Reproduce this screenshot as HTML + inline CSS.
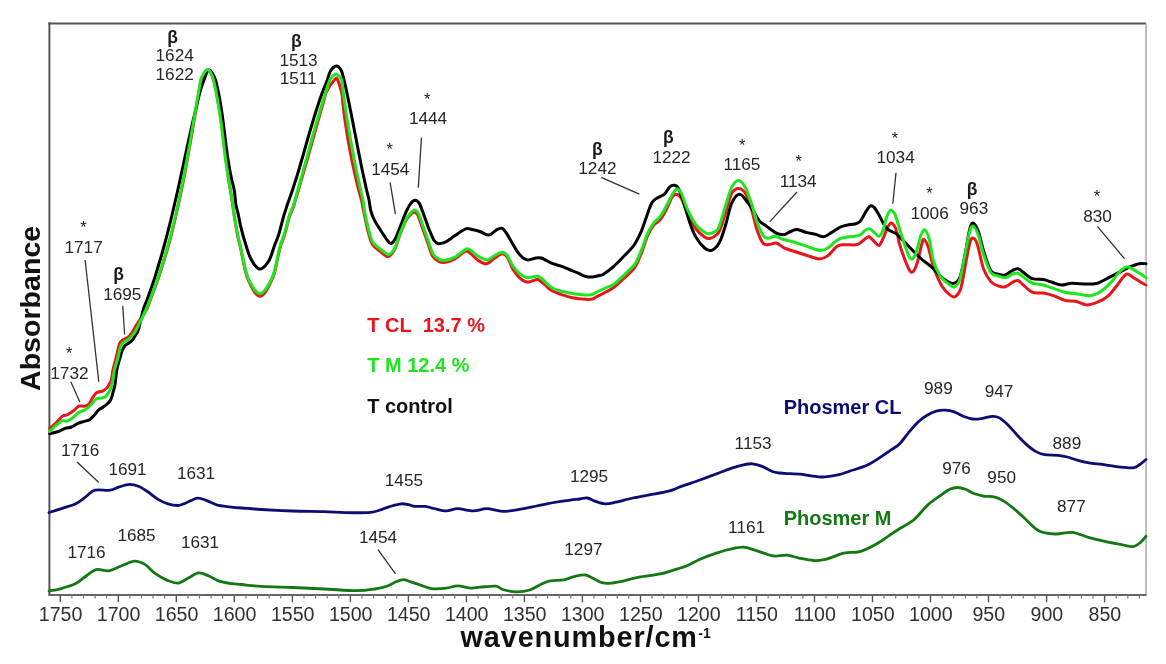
<!DOCTYPE html>
<html><head><meta charset="utf-8"><title>FTIR spectra</title>
<style>
html,body{margin:0;padding:0;background:#fff;}
body{width:1166px;height:664px;overflow:hidden;}
svg{display:block;font-family:"Liberation Sans", sans-serif;will-change:transform;}
</style></head>
<body>
<svg width="1166" height="664" viewBox="0 0 1166 664">
<rect width="1166" height="664" fill="#fff"/>
<line x1="48.4" y1="23.4" x2="1146.0" y2="23.4" stroke="#555" stroke-width="2.0"/>
<line x1="49.4" y1="22.4" x2="49.4" y2="595.0" stroke="#555" stroke-width="2.0"/>
<line x1="1146.0" y1="23.4" x2="1146.0" y2="595.0" stroke="#a8a8a8" stroke-width="1.5"/>
<line x1="48.4" y1="595.0" x2="1146.5" y2="595.0" stroke="#666" stroke-width="2.0"/>
<line x1="60.3" y1="595.0" x2="60.3" y2="602.3" stroke="#555" stroke-width="1.4"/>
<line x1="71.9" y1="595.0" x2="71.9" y2="598.5" stroke="#777" stroke-width="1.2"/>
<line x1="83.5" y1="595.0" x2="83.5" y2="598.5" stroke="#777" stroke-width="1.2"/>
<line x1="95.1" y1="595.0" x2="95.1" y2="598.5" stroke="#777" stroke-width="1.2"/>
<line x1="106.7" y1="595.0" x2="106.7" y2="598.5" stroke="#777" stroke-width="1.2"/>
<line x1="118.3" y1="595.0" x2="118.3" y2="602.3" stroke="#555" stroke-width="1.4"/>
<line x1="129.9" y1="595.0" x2="129.9" y2="598.5" stroke="#777" stroke-width="1.2"/>
<line x1="141.5" y1="595.0" x2="141.5" y2="598.5" stroke="#777" stroke-width="1.2"/>
<line x1="153.1" y1="595.0" x2="153.1" y2="598.5" stroke="#777" stroke-width="1.2"/>
<line x1="164.7" y1="595.0" x2="164.7" y2="598.5" stroke="#777" stroke-width="1.2"/>
<line x1="176.3" y1="595.0" x2="176.3" y2="602.3" stroke="#555" stroke-width="1.4"/>
<line x1="187.9" y1="595.0" x2="187.9" y2="598.5" stroke="#777" stroke-width="1.2"/>
<line x1="199.5" y1="595.0" x2="199.5" y2="598.5" stroke="#777" stroke-width="1.2"/>
<line x1="211.1" y1="595.0" x2="211.1" y2="598.5" stroke="#777" stroke-width="1.2"/>
<line x1="222.7" y1="595.0" x2="222.7" y2="598.5" stroke="#777" stroke-width="1.2"/>
<line x1="234.3" y1="595.0" x2="234.3" y2="602.3" stroke="#555" stroke-width="1.4"/>
<line x1="245.9" y1="595.0" x2="245.9" y2="598.5" stroke="#777" stroke-width="1.2"/>
<line x1="257.6" y1="595.0" x2="257.6" y2="598.5" stroke="#777" stroke-width="1.2"/>
<line x1="269.2" y1="595.0" x2="269.2" y2="598.5" stroke="#777" stroke-width="1.2"/>
<line x1="280.8" y1="595.0" x2="280.8" y2="598.5" stroke="#777" stroke-width="1.2"/>
<line x1="292.4" y1="595.0" x2="292.4" y2="602.3" stroke="#555" stroke-width="1.4"/>
<line x1="304.0" y1="595.0" x2="304.0" y2="598.5" stroke="#777" stroke-width="1.2"/>
<line x1="315.6" y1="595.0" x2="315.6" y2="598.5" stroke="#777" stroke-width="1.2"/>
<line x1="327.2" y1="595.0" x2="327.2" y2="598.5" stroke="#777" stroke-width="1.2"/>
<line x1="338.8" y1="595.0" x2="338.8" y2="598.5" stroke="#777" stroke-width="1.2"/>
<line x1="350.4" y1="595.0" x2="350.4" y2="602.3" stroke="#555" stroke-width="1.4"/>
<line x1="362.0" y1="595.0" x2="362.0" y2="598.5" stroke="#777" stroke-width="1.2"/>
<line x1="373.6" y1="595.0" x2="373.6" y2="598.5" stroke="#777" stroke-width="1.2"/>
<line x1="385.2" y1="595.0" x2="385.2" y2="598.5" stroke="#777" stroke-width="1.2"/>
<line x1="396.8" y1="595.0" x2="396.8" y2="598.5" stroke="#777" stroke-width="1.2"/>
<line x1="408.4" y1="595.0" x2="408.4" y2="602.3" stroke="#555" stroke-width="1.4"/>
<line x1="420.0" y1="595.0" x2="420.0" y2="598.5" stroke="#777" stroke-width="1.2"/>
<line x1="431.6" y1="595.0" x2="431.6" y2="598.5" stroke="#777" stroke-width="1.2"/>
<line x1="443.2" y1="595.0" x2="443.2" y2="598.5" stroke="#777" stroke-width="1.2"/>
<line x1="454.8" y1="595.0" x2="454.8" y2="598.5" stroke="#777" stroke-width="1.2"/>
<line x1="466.4" y1="595.0" x2="466.4" y2="602.3" stroke="#555" stroke-width="1.4"/>
<line x1="478.0" y1="595.0" x2="478.0" y2="598.5" stroke="#777" stroke-width="1.2"/>
<line x1="489.6" y1="595.0" x2="489.6" y2="598.5" stroke="#777" stroke-width="1.2"/>
<line x1="501.2" y1="595.0" x2="501.2" y2="598.5" stroke="#777" stroke-width="1.2"/>
<line x1="512.8" y1="595.0" x2="512.8" y2="598.5" stroke="#777" stroke-width="1.2"/>
<line x1="524.4" y1="595.0" x2="524.4" y2="602.3" stroke="#555" stroke-width="1.4"/>
<line x1="536.0" y1="595.0" x2="536.0" y2="598.5" stroke="#777" stroke-width="1.2"/>
<line x1="547.6" y1="595.0" x2="547.6" y2="598.5" stroke="#777" stroke-width="1.2"/>
<line x1="559.2" y1="595.0" x2="559.2" y2="598.5" stroke="#777" stroke-width="1.2"/>
<line x1="570.8" y1="595.0" x2="570.8" y2="598.5" stroke="#777" stroke-width="1.2"/>
<line x1="582.4" y1="595.0" x2="582.4" y2="602.3" stroke="#555" stroke-width="1.4"/>
<line x1="594.0" y1="595.0" x2="594.0" y2="598.5" stroke="#777" stroke-width="1.2"/>
<line x1="605.6" y1="595.0" x2="605.6" y2="598.5" stroke="#777" stroke-width="1.2"/>
<line x1="617.2" y1="595.0" x2="617.2" y2="598.5" stroke="#777" stroke-width="1.2"/>
<line x1="628.8" y1="595.0" x2="628.8" y2="598.5" stroke="#777" stroke-width="1.2"/>
<line x1="640.5" y1="595.0" x2="640.5" y2="602.3" stroke="#555" stroke-width="1.4"/>
<line x1="652.1" y1="595.0" x2="652.1" y2="598.5" stroke="#777" stroke-width="1.2"/>
<line x1="663.7" y1="595.0" x2="663.7" y2="598.5" stroke="#777" stroke-width="1.2"/>
<line x1="675.3" y1="595.0" x2="675.3" y2="598.5" stroke="#777" stroke-width="1.2"/>
<line x1="686.9" y1="595.0" x2="686.9" y2="598.5" stroke="#777" stroke-width="1.2"/>
<line x1="698.5" y1="595.0" x2="698.5" y2="602.3" stroke="#555" stroke-width="1.4"/>
<line x1="710.1" y1="595.0" x2="710.1" y2="598.5" stroke="#777" stroke-width="1.2"/>
<line x1="721.7" y1="595.0" x2="721.7" y2="598.5" stroke="#777" stroke-width="1.2"/>
<line x1="733.3" y1="595.0" x2="733.3" y2="598.5" stroke="#777" stroke-width="1.2"/>
<line x1="744.9" y1="595.0" x2="744.9" y2="598.5" stroke="#777" stroke-width="1.2"/>
<line x1="756.5" y1="595.0" x2="756.5" y2="602.3" stroke="#555" stroke-width="1.4"/>
<line x1="768.1" y1="595.0" x2="768.1" y2="598.5" stroke="#777" stroke-width="1.2"/>
<line x1="779.7" y1="595.0" x2="779.7" y2="598.5" stroke="#777" stroke-width="1.2"/>
<line x1="791.3" y1="595.0" x2="791.3" y2="598.5" stroke="#777" stroke-width="1.2"/>
<line x1="802.9" y1="595.0" x2="802.9" y2="598.5" stroke="#777" stroke-width="1.2"/>
<line x1="814.5" y1="595.0" x2="814.5" y2="602.3" stroke="#555" stroke-width="1.4"/>
<line x1="826.1" y1="595.0" x2="826.1" y2="598.5" stroke="#777" stroke-width="1.2"/>
<line x1="837.7" y1="595.0" x2="837.7" y2="598.5" stroke="#777" stroke-width="1.2"/>
<line x1="849.3" y1="595.0" x2="849.3" y2="598.5" stroke="#777" stroke-width="1.2"/>
<line x1="860.9" y1="595.0" x2="860.9" y2="598.5" stroke="#777" stroke-width="1.2"/>
<line x1="872.5" y1="595.0" x2="872.5" y2="602.3" stroke="#555" stroke-width="1.4"/>
<line x1="884.1" y1="595.0" x2="884.1" y2="598.5" stroke="#777" stroke-width="1.2"/>
<line x1="895.7" y1="595.0" x2="895.7" y2="598.5" stroke="#777" stroke-width="1.2"/>
<line x1="907.3" y1="595.0" x2="907.3" y2="598.5" stroke="#777" stroke-width="1.2"/>
<line x1="918.9" y1="595.0" x2="918.9" y2="598.5" stroke="#777" stroke-width="1.2"/>
<line x1="930.5" y1="595.0" x2="930.5" y2="602.3" stroke="#555" stroke-width="1.4"/>
<line x1="942.1" y1="595.0" x2="942.1" y2="598.5" stroke="#777" stroke-width="1.2"/>
<line x1="953.7" y1="595.0" x2="953.7" y2="598.5" stroke="#777" stroke-width="1.2"/>
<line x1="965.3" y1="595.0" x2="965.3" y2="598.5" stroke="#777" stroke-width="1.2"/>
<line x1="976.9" y1="595.0" x2="976.9" y2="598.5" stroke="#777" stroke-width="1.2"/>
<line x1="988.5" y1="595.0" x2="988.5" y2="602.3" stroke="#555" stroke-width="1.4"/>
<line x1="1000.1" y1="595.0" x2="1000.1" y2="598.5" stroke="#777" stroke-width="1.2"/>
<line x1="1011.7" y1="595.0" x2="1011.7" y2="598.5" stroke="#777" stroke-width="1.2"/>
<line x1="1023.3" y1="595.0" x2="1023.3" y2="598.5" stroke="#777" stroke-width="1.2"/>
<line x1="1035.0" y1="595.0" x2="1035.0" y2="598.5" stroke="#777" stroke-width="1.2"/>
<line x1="1046.6" y1="595.0" x2="1046.6" y2="602.3" stroke="#555" stroke-width="1.4"/>
<line x1="1058.2" y1="595.0" x2="1058.2" y2="598.5" stroke="#777" stroke-width="1.2"/>
<line x1="1069.8" y1="595.0" x2="1069.8" y2="598.5" stroke="#777" stroke-width="1.2"/>
<line x1="1081.4" y1="595.0" x2="1081.4" y2="598.5" stroke="#777" stroke-width="1.2"/>
<line x1="1093.0" y1="595.0" x2="1093.0" y2="598.5" stroke="#777" stroke-width="1.2"/>
<line x1="1104.6" y1="595.0" x2="1104.6" y2="602.3" stroke="#555" stroke-width="1.4"/>
<line x1="1116.2" y1="595.0" x2="1116.2" y2="598.5" stroke="#777" stroke-width="1.2"/>
<line x1="1127.8" y1="595.0" x2="1127.8" y2="598.5" stroke="#777" stroke-width="1.2"/>
<line x1="1139.4" y1="595.0" x2="1139.4" y2="598.5" stroke="#777" stroke-width="1.2"/>
<text transform="translate(60.6,621.2) scale(0.935,1)" text-anchor="middle" font-size="21" fill="#303030">1750</text>
<text transform="translate(118.6,621.2) scale(0.935,1)" text-anchor="middle" font-size="21" fill="#303030">1700</text>
<text transform="translate(176.6,621.2) scale(0.935,1)" text-anchor="middle" font-size="21" fill="#303030">1650</text>
<text transform="translate(234.6,621.2) scale(0.935,1)" text-anchor="middle" font-size="21" fill="#303030">1600</text>
<text transform="translate(292.7,621.2) scale(0.935,1)" text-anchor="middle" font-size="21" fill="#303030">1550</text>
<text transform="translate(350.7,621.2) scale(0.935,1)" text-anchor="middle" font-size="21" fill="#303030">1500</text>
<text transform="translate(408.7,621.2) scale(0.935,1)" text-anchor="middle" font-size="21" fill="#303030">1450</text>
<text transform="translate(466.7,621.2) scale(0.935,1)" text-anchor="middle" font-size="21" fill="#303030">1400</text>
<text transform="translate(524.7,621.2) scale(0.935,1)" text-anchor="middle" font-size="21" fill="#303030">1350</text>
<text transform="translate(582.7,621.2) scale(0.935,1)" text-anchor="middle" font-size="21" fill="#303030">1300</text>
<text transform="translate(640.8,621.2) scale(0.935,1)" text-anchor="middle" font-size="21" fill="#303030">1250</text>
<text transform="translate(698.8,621.2) scale(0.935,1)" text-anchor="middle" font-size="21" fill="#303030">1200</text>
<text transform="translate(756.8,621.2) scale(0.935,1)" text-anchor="middle" font-size="21" fill="#303030">1150</text>
<text transform="translate(814.8,621.2) scale(0.935,1)" text-anchor="middle" font-size="21" fill="#303030">1100</text>
<text transform="translate(872.8,621.2) scale(0.935,1)" text-anchor="middle" font-size="21" fill="#303030">1050</text>
<text transform="translate(930.8,621.2) scale(0.935,1)" text-anchor="middle" font-size="21" fill="#303030">1000</text>
<text transform="translate(988.8,621.2) scale(0.935,1)" text-anchor="middle" font-size="21" fill="#303030">950</text>
<text transform="translate(1046.9,621.2) scale(0.935,1)" text-anchor="middle" font-size="21" fill="#303030">900</text>
<text transform="translate(1104.9,621.2) scale(0.935,1)" text-anchor="middle" font-size="21" fill="#303030">850</text>
<text x="460.5" y="647.4" font-size="28.8" font-weight="bold" letter-spacing="0.9" fill="#111">wavenumber/cm</text>
<text x="698.3" y="638.1" font-size="14" font-weight="bold" fill="#111">-1</text>
<text transform="translate(40.3,391) rotate(-90)" x="0" y="0" font-size="28.5" font-weight="bold" letter-spacing="0.05" fill="#111">Absorbance</text>
<path d="M49.0 512.5C51.3 511.8 58.4 509.6 62.9 508.1C67.3 506.7 71.9 505.7 75.7 503.8C79.5 501.9 82.8 498.9 86.0 496.6C89.2 494.3 90.9 491.3 94.9 490.2C99.0 489.1 106.2 490.8 110.3 490.2C114.4 489.6 116.1 487.9 119.3 486.9C122.5 485.9 126.3 484.4 129.5 484.3C132.7 484.2 135.5 485.1 138.5 486.3C141.5 487.5 144.2 489.4 147.4 491.5C150.6 493.6 154.3 497.1 157.7 499.1C161.1 501.2 164.5 502.7 167.9 503.8C171.3 504.9 175.2 505.6 178.2 505.5C181.2 505.4 182.6 504.2 185.8 503.0C189.0 501.8 194.0 498.5 197.4 498.1C200.8 497.7 203.1 499.3 206.3 500.4C209.5 501.5 212.8 503.7 216.6 504.8C220.4 505.9 225.2 506.3 229.4 506.8C233.6 507.3 236.7 507.6 242.0 508.0C247.3 508.4 252.7 509.0 261.1 509.5C269.6 510.0 282.2 510.6 292.7 511.0C303.2 511.4 315.5 511.3 324.3 511.6C333.1 511.9 337.7 512.6 345.4 512.7C353.1 512.8 364.4 512.9 370.7 512.3C377.0 511.7 379.8 509.9 383.3 508.9C386.8 507.8 388.7 506.9 391.7 506.0C394.7 505.1 398.4 504.0 401.2 503.8C404.0 503.6 406.3 504.3 408.6 504.7C410.9 505.1 412.1 506.1 414.9 506.4C417.7 506.7 422.3 506.0 425.5 506.4C428.7 506.8 430.4 507.8 433.9 508.5C437.4 509.2 442.4 510.9 446.3 510.9C450.2 510.9 453.1 508.7 457.6 508.7C462.1 508.7 468.5 510.9 473.4 510.9C478.3 510.9 482.0 508.6 486.9 508.7C491.8 508.8 497.1 511.3 502.7 511.4C508.3 511.5 515.1 510.0 520.8 509.1C526.4 508.2 531.0 507.1 536.6 506.0C542.2 504.9 549.0 503.4 554.6 502.4C560.2 501.4 566.2 500.7 570.4 500.1C574.6 499.5 577.2 499.4 580.0 499.0C582.8 498.6 584.9 497.6 587.4 498.0C589.9 498.4 591.8 500.1 594.8 501.1C597.8 502.1 601.8 503.7 605.3 503.9C608.8 504.1 611.3 503.2 615.9 502.2C620.5 501.2 627.1 499.2 632.7 498.0C638.3 496.8 643.6 495.9 649.6 494.8C655.6 493.7 663.3 492.6 668.6 491.2C673.9 489.8 676.1 488.3 681.3 486.4C686.5 484.5 693.9 482.2 700.0 480.0C706.1 477.8 712.7 475.3 718.1 473.3C723.5 471.3 728.3 469.3 732.5 467.9C736.7 466.5 740.1 465.5 743.4 464.8C746.7 464.1 749.4 463.6 752.4 463.8C755.4 464.0 758.2 464.8 761.5 466.1C764.8 467.4 769.3 470.4 772.3 471.5C775.3 472.6 776.6 472.6 779.6 473.0C782.6 473.4 787.0 473.5 790.4 473.7C793.8 473.9 794.9 473.6 800.0 474.2C805.1 474.8 814.5 476.9 821.0 477.0C827.5 477.1 834.3 475.7 839.1 474.7C843.9 473.7 845.1 472.7 850.0 471.0C854.9 469.3 861.6 468.1 868.5 464.6C875.4 461.1 885.9 453.4 891.1 449.9C896.4 446.4 897.0 446.4 900.0 443.4C903.0 440.4 906.0 435.7 909.0 432.1C912.0 428.5 915.1 424.8 918.1 422.0C921.1 419.2 924.1 417.0 927.1 415.2C930.1 413.4 933.2 411.9 936.2 411.1C939.2 410.3 942.2 410.1 945.2 410.2C948.2 410.3 951.2 410.8 954.2 411.8C957.2 412.8 960.3 415.1 963.3 416.3C966.3 417.5 969.3 418.6 972.3 419.0C975.3 419.4 978.0 419.1 981.4 418.6C984.8 418.2 989.7 416.4 992.7 416.3C995.7 416.2 996.8 416.4 999.4 417.9C1002.0 419.4 1005.5 422.5 1008.5 425.4C1011.5 428.3 1014.5 432.3 1017.5 435.5C1020.5 438.7 1023.6 442.0 1026.6 444.6C1029.6 447.2 1032.6 449.7 1035.6 451.4C1038.6 453.1 1040.8 454.0 1044.6 454.7C1048.4 455.4 1054.4 455.0 1058.2 455.4C1062.0 455.8 1064.2 456.2 1067.2 457.0C1070.2 457.8 1072.9 458.9 1076.3 459.9C1079.7 460.8 1083.6 462.0 1087.6 462.7C1091.5 463.4 1094.9 463.5 1100.0 464.2C1105.1 464.9 1112.7 466.2 1118.2 466.8C1123.7 467.4 1129.5 468.2 1133.1 467.8C1136.7 467.4 1137.6 465.9 1139.8 464.5C1142.0 463.1 1145.0 460.3 1146.0 459.5" fill="none" stroke="#0c0c72" stroke-width="2.8" stroke-linejoin="round" stroke-linecap="round"/>
<path d="M49.0 590.8C50.9 590.5 55.9 590.0 60.4 588.8C64.8 587.6 71.4 585.7 75.7 583.6C80.0 581.5 82.6 578.3 86.0 576.0C89.4 573.7 92.4 570.5 96.2 569.6C100.0 568.7 104.7 571.4 109.0 570.8C113.3 570.1 117.5 567.3 121.8 565.7C126.1 564.1 130.8 561.3 134.6 561.1C138.4 560.9 141.5 562.4 144.9 564.4C148.3 566.4 151.3 570.7 155.1 573.4C158.9 576.1 164.1 579.0 167.9 580.6C171.8 582.2 174.8 583.5 178.2 583.1C181.6 582.7 185.0 579.7 188.4 578.0C191.8 576.3 195.2 573.2 198.6 572.9C202.0 572.6 205.5 574.6 208.9 576.0C212.3 577.4 215.3 579.8 219.1 581.1C222.9 582.4 228.1 583.0 231.9 583.6C235.7 584.2 237.1 584.0 242.0 584.5C246.9 585.0 252.7 585.9 261.1 586.4C269.6 586.9 282.2 587.1 292.7 587.5C303.2 587.9 313.8 588.5 324.3 589.0C334.8 589.5 347.5 590.7 355.9 590.7C364.3 590.7 369.6 589.8 374.9 589.0C380.2 588.2 384.0 587.2 387.5 586.0C391.0 584.8 393.4 582.8 396.0 581.8C398.6 580.8 400.9 579.7 403.3 579.7C405.8 579.7 407.7 580.8 410.7 581.8C413.7 582.8 417.7 584.3 421.2 585.4C424.7 586.5 427.6 588.1 431.8 588.6C436.0 589.1 442.0 588.6 446.3 588.1C450.6 587.6 453.5 585.9 457.6 585.9C461.7 585.9 467.4 587.9 471.1 588.1C474.9 588.3 476.0 587.5 480.1 587.2C484.2 586.9 492.2 585.7 496.0 586.1C499.8 586.5 499.3 588.5 502.7 589.5C506.1 590.5 511.8 591.7 516.3 591.8C520.8 591.9 525.7 591.2 529.8 590.0C533.9 588.8 537.7 585.8 541.1 584.3C544.5 582.8 546.3 581.6 550.1 580.9C553.9 580.1 559.6 580.5 563.7 579.8C567.9 579.0 571.4 577.2 575.0 576.4C578.6 575.6 582.3 574.7 585.3 575.0C588.2 575.3 590.1 576.9 592.7 578.1C595.3 579.3 598.3 581.5 601.1 582.4C603.9 583.3 606.0 583.6 609.5 583.4C613.0 583.2 617.3 582.3 622.2 581.3C627.1 580.2 632.8 578.3 639.1 577.1C645.4 575.9 654.2 575.1 660.2 573.9C666.2 572.7 670.3 571.1 674.9 569.7C679.5 568.3 683.4 567.2 687.6 565.5C691.8 563.8 695.1 561.3 700.0 559.2C704.9 557.1 711.8 554.5 717.1 552.8C722.4 551.1 727.2 549.8 731.6 548.9C736.0 548.0 740.0 547.1 743.6 547.2C747.2 547.3 749.7 548.5 753.3 549.6C756.9 550.7 761.7 552.6 765.3 553.7C768.9 554.8 771.3 555.9 774.9 556.1C778.5 556.4 783.0 554.9 787.0 555.2C791.0 555.5 794.6 557.2 799.0 558.1C803.4 559.0 809.1 560.3 813.5 560.5C817.9 560.7 821.9 560.0 825.5 559.3C829.1 558.6 832.0 557.2 835.2 556.1C838.4 555.0 840.7 553.5 844.8 552.8C848.9 552.0 854.6 553.1 859.9 551.6C865.2 550.1 870.3 547.5 876.4 544.0C882.5 540.5 890.1 534.7 896.3 530.7C902.5 526.7 908.5 524.2 913.6 520.0C918.7 515.8 922.6 509.7 927.1 505.6C931.6 501.5 936.9 498.1 940.7 495.4C944.5 492.7 946.9 490.6 949.7 489.3C952.5 488.0 955.0 487.5 957.6 487.5C960.2 487.5 962.7 488.2 965.5 489.3C968.3 490.4 971.6 492.7 974.6 493.8C977.6 494.9 980.6 495.6 983.6 496.1C986.6 496.6 989.7 496.0 992.7 496.6C995.7 497.2 998.3 498.0 1001.7 499.9C1005.1 501.8 1009.2 504.9 1013.0 507.9C1016.8 510.9 1020.0 514.2 1024.3 518.0C1028.6 521.8 1033.5 528.0 1038.7 530.7C1043.9 533.4 1049.8 533.7 1055.3 534.0C1060.8 534.3 1066.4 531.9 1071.9 532.4C1077.4 532.9 1082.9 535.8 1088.4 537.3C1093.9 538.8 1099.5 540.1 1105.0 541.3C1110.5 542.5 1116.8 543.7 1121.5 544.6C1126.2 545.5 1130.0 546.9 1133.1 546.6C1136.1 546.3 1137.6 544.7 1139.8 543.0C1142.0 541.3 1145.0 537.4 1146.0 536.3" fill="none" stroke="#137813" stroke-width="2.8" stroke-linejoin="round" stroke-linecap="round"/>
<path d="M49.7 428.8C50.8 427.8 54.1 424.6 56.3 422.5C58.4 420.4 60.8 417.4 62.6 416.1C64.4 414.8 65.4 415.6 67.1 414.8C68.8 414.1 70.5 413.0 72.5 411.6C74.5 410.2 76.8 407.1 78.8 406.2C80.8 405.3 82.6 406.5 84.3 406.2C86.0 405.9 87.4 405.8 88.8 404.4C90.2 403.0 91.1 400.1 92.4 398.1C93.8 396.1 95.1 393.8 96.9 392.6C98.7 391.4 101.6 391.6 103.2 390.8C104.8 390.1 105.7 389.3 106.8 388.1C107.9 386.9 108.8 385.0 109.6 383.6C110.4 382.2 110.8 382.3 111.4 380.0C112.0 377.7 112.2 373.8 113.0 370.0C113.8 366.2 115.2 361.4 116.3 357.1C117.3 352.9 118.3 347.3 119.3 344.5C120.3 341.7 121.2 341.2 122.3 340.2C123.4 339.2 124.7 339.1 125.9 338.4C127.1 337.7 128.4 337.1 129.5 336.0C130.6 334.9 131.8 332.8 132.5 331.8C133.2 330.8 132.9 331.3 133.7 330.0C134.4 328.7 134.9 327.2 137.0 324.0C139.1 320.8 143.9 314.4 146.1 310.5C148.3 306.6 148.8 303.8 150.1 300.5C151.4 297.2 152.7 293.8 153.9 290.5C155.1 287.2 156.3 283.8 157.5 280.5C158.7 277.2 159.8 273.8 160.9 270.5C162.0 267.2 163.0 263.8 164.0 260.5C165.0 257.2 166.0 253.8 167.0 250.5C168.0 247.2 168.9 243.8 169.8 240.5C170.7 237.2 171.6 233.8 172.4 230.5C173.2 227.2 174.0 223.8 174.8 220.5C175.6 217.2 176.3 213.8 177.1 210.5C177.8 207.2 178.6 203.8 179.3 200.5C180.0 197.2 180.7 193.8 181.4 190.5C182.1 187.2 182.8 183.8 183.4 180.5C184.1 177.2 184.7 173.8 185.3 170.5C185.9 167.2 186.5 163.8 187.1 160.5C187.7 157.2 188.3 153.8 188.9 150.5C189.5 147.2 190.1 143.8 190.7 140.5C191.3 137.2 191.8 133.8 192.4 130.5C193.0 127.2 193.5 123.8 194.1 120.5C194.7 117.2 195.2 113.8 195.8 110.5C196.4 107.2 196.9 103.8 197.5 100.5C198.1 97.2 198.7 93.8 199.3 90.5C199.9 87.2 200.3 83.3 201.1 80.5C201.9 77.7 203.2 75.2 204.3 73.5C205.4 71.8 206.4 70.2 207.4 70.0C208.4 69.8 209.2 70.2 210.3 72.0C211.4 73.8 212.9 77.4 213.8 80.5C214.8 83.6 215.3 87.2 216.0 90.5C216.7 93.8 217.2 97.2 217.8 100.5C218.4 103.8 219.0 107.2 219.5 110.5C220.0 113.8 220.5 117.2 221.0 120.5C221.5 123.8 221.9 127.2 222.3 130.5C222.7 133.8 223.2 137.2 223.6 140.5C224.0 143.8 224.4 147.2 224.8 150.5C225.2 153.8 225.7 157.2 226.1 160.5C226.5 163.8 226.9 167.2 227.4 170.5C227.9 173.8 228.3 177.0 228.8 180.5C229.3 184.0 229.9 187.2 230.6 191.5C231.3 195.8 232.3 202.3 232.9 206.5C233.5 210.7 233.8 213.2 234.3 216.5C234.8 219.8 235.4 223.2 236.0 226.5C236.6 229.8 237.1 233.2 237.8 236.5C238.5 239.8 239.4 243.2 240.2 246.5C240.9 249.8 241.4 252.3 242.3 256.5C243.2 260.7 244.4 267.3 245.5 271.5C246.6 275.7 247.3 278.0 248.9 281.5C250.5 285.0 253.1 290.1 254.9 292.5C256.8 294.9 258.3 296.2 260.0 296.2C261.7 296.2 263.2 294.9 265.1 292.5C267.0 290.1 269.5 285.0 271.1 281.5C272.7 278.0 273.7 275.7 274.8 271.5C275.9 267.3 277.1 260.7 278.0 256.5C278.9 252.3 279.4 249.8 280.4 246.5C281.4 243.2 282.9 239.8 284.0 236.5C285.1 233.2 285.9 229.8 286.8 226.5C287.7 223.2 288.4 219.8 289.5 216.5C290.6 213.2 292.7 209.0 293.6 206.5C294.5 204.0 294.2 204.0 294.9 201.5C295.6 199.0 297.0 194.9 298.0 191.5C299.0 188.1 300.0 184.6 301.0 181.2C302.0 177.8 302.9 174.5 303.9 171.2C304.9 167.9 305.9 164.5 306.8 161.2C307.8 157.9 308.7 154.5 309.6 151.2C310.5 147.9 311.5 144.5 312.4 141.2C313.3 137.9 314.3 134.5 315.2 131.2C316.1 127.9 317.1 124.5 318.0 121.2C318.9 117.9 319.9 114.5 320.8 111.2C321.8 107.9 322.7 104.5 323.7 101.2C324.7 97.9 324.8 94.9 326.7 91.2C328.6 87.5 333.2 81.2 335.0 79.3C336.8 77.4 336.6 77.7 337.7 80.0C338.8 82.3 340.8 89.2 341.7 93.0C342.6 96.8 342.4 99.7 342.8 103.0C343.2 106.3 343.6 109.7 344.0 113.0C344.4 116.3 344.9 119.7 345.4 123.0C345.9 126.3 346.4 129.7 346.9 133.0C347.4 136.3 348.0 139.7 348.6 143.0C349.2 146.3 349.8 149.7 350.4 153.0C351.0 156.3 351.7 159.7 352.4 163.0C353.1 166.3 353.9 169.7 354.6 173.0C355.4 176.3 356.1 179.7 356.9 183.0C357.7 186.3 358.7 189.8 359.5 193.0C360.3 196.2 361.1 198.7 361.9 202.0C362.6 205.3 362.9 207.8 364.0 212.8C365.1 217.8 366.8 226.5 368.2 231.8C369.6 237.1 370.3 241.1 372.4 244.4C374.5 247.7 378.2 249.8 380.8 251.8C383.4 253.8 385.9 256.9 388.2 256.5C390.5 256.1 392.6 253.3 394.5 249.7C396.4 246.1 397.9 239.8 399.8 234.9C401.7 230.0 404.2 223.7 406.1 220.2C408.0 216.7 410.1 215.2 411.4 213.9C412.7 212.6 412.9 212.1 414.0 212.3C415.1 212.5 416.4 212.5 417.7 214.9C419.0 217.3 420.3 222.1 421.9 226.5C423.5 230.9 425.4 236.4 427.2 241.3C429.0 246.2 430.6 252.7 432.5 256.0C434.4 259.3 436.7 260.2 438.8 261.3C440.9 262.4 442.5 262.7 445.1 262.3C447.7 261.9 451.1 261.0 454.5 259.2C457.9 257.4 462.6 252.3 465.2 251.3C467.8 250.3 467.8 251.5 470.0 253.0C472.2 254.5 475.5 258.6 478.3 260.4C481.1 262.2 483.9 264.1 486.6 263.7C489.4 263.3 492.2 259.6 494.8 258.0C497.4 256.4 500.2 254.0 502.3 253.8C504.4 253.7 505.5 254.5 507.3 257.1C509.1 259.7 510.9 266.1 513.0 269.5C515.1 272.9 517.5 275.7 519.7 277.8C521.9 279.9 524.1 281.5 526.3 282.0C528.5 282.5 531.0 281.2 532.9 280.8C534.8 280.4 536.0 278.9 537.9 279.5C539.8 280.1 542.3 282.6 544.5 284.4C546.7 286.2 548.3 288.5 551.1 290.2C553.9 291.9 557.5 293.1 561.1 294.4C564.7 295.6 568.5 296.9 572.6 297.7C576.7 298.5 582.6 299.1 585.9 299.3C589.2 299.5 590.6 299.5 592.5 299.0C594.4 298.5 594.8 297.6 597.0 296.5C599.2 295.4 602.7 293.7 605.5 292.2C608.3 290.7 610.7 289.8 613.8 287.4C616.9 285.0 620.8 281.3 624.3 278.0C627.8 274.7 631.9 271.5 634.8 267.4C637.6 263.3 639.2 258.5 641.4 253.2C643.5 247.8 645.6 240.0 647.7 235.3C649.8 230.6 651.9 227.4 654.0 224.8C656.1 222.2 658.2 222.1 660.3 219.5C662.4 216.9 664.7 212.7 666.6 209.0C668.5 205.3 670.3 199.9 671.9 197.4C673.5 194.9 674.5 194.0 676.1 194.2C677.7 194.4 679.5 195.1 681.4 198.4C683.3 201.7 685.2 209.1 687.7 214.2C690.2 219.3 693.3 225.2 696.1 229.0C698.9 232.8 702.3 235.4 704.6 237.0C706.9 238.6 707.7 238.9 709.8 238.5C711.9 238.1 715.3 236.2 717.2 234.3C719.1 232.4 719.6 230.6 721.0 227.0C722.4 223.4 723.7 218.6 725.5 213.0C727.3 207.4 729.5 197.4 731.7 193.3C733.9 189.2 736.3 188.4 738.6 188.4C740.9 188.4 743.3 189.9 745.4 193.3C747.5 196.7 749.3 202.7 751.3 208.9C753.3 215.1 755.2 224.8 757.2 230.5C759.2 236.2 761.2 240.8 763.1 243.2C765.0 245.5 766.6 244.6 768.9 244.6C771.2 244.6 774.2 242.6 776.8 243.2C779.4 243.8 781.4 246.6 784.6 248.1C787.9 249.6 792.4 250.7 796.3 252.0C800.2 253.3 804.2 254.8 808.1 255.9C812.0 257.1 816.5 258.9 819.8 258.9C823.1 258.9 824.8 258.0 827.7 255.9C830.7 253.8 834.6 247.9 837.5 246.1C840.4 244.2 842.0 245.0 845.0 244.8C848.0 244.6 853.0 245.1 855.5 244.8C858.0 244.5 858.4 244.0 860.0 243.0C861.6 242.0 863.5 239.9 865.0 238.9C866.5 237.9 867.6 236.4 869.1 236.8C870.6 237.2 872.5 240.0 874.1 241.4C875.8 242.8 877.5 246.1 879.0 245.5C880.5 244.9 882.0 240.6 883.2 238.0C884.5 235.4 885.3 232.3 886.5 229.8C887.7 227.3 889.2 223.7 890.6 223.1C892.0 222.5 893.7 224.7 894.8 226.5C895.9 228.3 896.5 230.9 897.3 233.9C898.1 236.9 898.2 239.9 899.7 244.7C901.2 249.5 904.2 258.1 906.1 262.7C908.0 267.3 909.6 271.8 911.4 272.2C913.1 272.6 914.9 269.6 916.6 264.8C918.4 260.1 920.7 247.9 921.9 243.7C923.1 239.5 923.0 239.0 924.0 239.5C925.0 240.0 926.6 242.3 928.2 246.9C929.8 251.5 931.2 260.4 933.5 266.9C935.8 273.4 939.1 281.1 941.9 285.9C944.7 290.6 948.1 293.6 950.4 295.4C952.7 297.1 953.9 297.6 955.6 296.4C957.4 295.2 959.1 294.0 960.9 288.0C962.7 282.0 964.7 268.3 966.2 260.6C967.7 252.9 968.9 245.8 970.0 242.0C971.1 238.2 971.7 238.2 972.7 238.0C973.7 237.8 975.1 239.5 976.0 241.0C976.9 242.5 976.9 242.4 978.1 247.0C979.4 251.6 981.4 263.0 983.5 268.7C985.6 274.4 988.3 278.5 990.7 281.4C993.1 284.3 995.6 285.0 998.0 285.9C1000.4 286.8 1002.8 287.4 1005.2 286.8C1007.6 286.2 1010.3 283.4 1012.4 282.3C1014.5 281.2 1016.1 280.1 1017.9 280.5C1019.7 280.9 1020.9 283.1 1023.3 285.0C1025.7 286.9 1029.0 290.8 1032.3 292.2C1035.6 293.6 1039.6 292.5 1043.2 293.1C1046.8 293.7 1050.4 294.6 1054.0 295.8C1057.6 297.0 1061.3 299.5 1064.9 300.4C1068.5 301.3 1072.1 300.6 1075.7 301.3C1079.3 302.1 1083.0 304.8 1086.6 304.9C1090.2 305.0 1093.8 303.7 1097.4 302.2C1101.0 300.7 1105.0 298.7 1108.3 295.8C1111.6 292.9 1114.3 288.6 1117.3 285.0C1120.3 281.4 1123.7 275.3 1126.4 274.1C1129.1 272.9 1131.2 276.4 1133.6 277.8C1136.0 279.2 1138.7 281.1 1140.8 282.3C1142.9 283.5 1145.1 284.6 1146.0 285.0" fill="none" stroke="#e8161c" stroke-width="3.0" stroke-linejoin="round" stroke-linecap="round"/>
<path d="M49.7 433.8C51.1 433.4 55.5 432.4 58.1 431.5C60.7 430.6 63.0 429.1 65.3 428.3C67.5 427.6 69.5 427.8 71.6 427.0C73.7 426.2 75.9 424.3 77.9 423.4C79.9 422.5 81.4 422.2 83.4 421.6C85.4 421.0 87.9 420.8 89.7 419.7C91.5 418.6 92.7 416.8 94.2 415.2C95.7 413.6 97.2 411.1 98.7 409.8C100.2 408.5 101.5 408.3 103.2 407.1C104.9 405.9 107.3 404.1 108.7 402.6C110.1 401.1 110.7 399.9 111.4 398.1C112.2 396.3 112.6 394.0 113.2 391.7C113.8 389.4 114.4 388.1 115.0 384.5C115.6 380.9 116.0 374.3 116.8 370.0C117.6 365.7 118.8 362.1 119.7 358.9C120.6 355.6 121.4 352.7 122.2 350.5C123.0 348.3 123.8 346.9 124.8 345.7C125.8 344.5 127.3 344.2 128.5 343.3C129.7 342.4 131.0 341.6 132.2 340.2C133.4 338.8 134.7 336.6 135.7 334.8C136.7 333.0 137.2 333.6 138.4 329.5C139.7 325.4 141.8 314.9 143.2 310.0C144.6 305.1 145.8 303.3 147.0 300.0C148.2 296.7 149.4 293.3 150.6 290.0C151.8 286.7 152.9 283.3 154.0 280.0C155.1 276.7 156.1 273.3 157.1 270.0C158.1 266.7 159.1 263.3 160.1 260.0C161.1 256.7 162.1 253.3 163.0 250.0C163.9 246.7 164.8 243.3 165.7 240.0C166.6 236.7 167.5 233.3 168.3 230.0C169.2 226.7 170.0 223.3 170.8 220.0C171.6 216.7 172.4 213.3 173.2 210.0C174.0 206.7 174.7 203.3 175.5 200.0C176.3 196.7 177.1 193.3 177.8 190.0C178.6 186.7 179.3 183.3 180.0 180.0C180.7 176.7 181.5 173.3 182.2 170.0C182.9 166.7 183.6 163.3 184.3 160.0C185.0 156.7 185.8 153.3 186.5 150.0C187.2 146.7 188.0 143.3 188.7 140.0C189.4 136.7 190.2 133.3 190.9 130.0C191.7 126.7 192.4 123.3 193.2 120.0C194.0 116.7 194.8 113.3 195.6 110.0C196.4 106.7 197.2 103.3 198.0 100.0C198.8 96.7 199.5 93.3 200.5 90.0C201.5 86.7 203.0 82.8 204.0 80.0C205.0 77.2 205.7 74.7 206.5 73.0C207.3 71.3 208.1 70.1 209.0 70.0C209.9 69.9 210.9 70.8 212.0 72.5C213.1 74.2 214.5 77.1 215.5 80.0C216.5 82.9 217.2 86.7 217.9 90.0C218.6 93.3 219.3 96.7 219.9 100.0C220.5 103.3 221.0 106.7 221.5 110.0C222.0 113.3 222.5 116.7 222.9 120.0C223.3 123.3 223.8 126.7 224.2 130.0C224.6 133.3 225.0 136.7 225.4 140.0C225.8 143.3 226.2 146.7 226.7 150.0C227.1 153.3 227.6 156.7 228.1 160.0C228.6 163.3 229.2 166.7 229.8 170.0C230.4 173.3 231.1 176.7 231.8 180.0C232.5 183.3 233.5 185.8 234.2 190.0C234.9 194.2 235.3 200.8 236.0 205.0C236.7 209.2 237.7 211.7 238.4 215.0C239.1 218.3 239.7 221.7 240.4 225.0C241.2 228.3 242.0 231.7 242.9 235.0C243.8 238.3 244.9 241.7 245.9 245.0C246.9 248.3 248.2 252.5 249.2 255.0C250.1 257.5 250.6 258.2 251.6 260.0C252.6 261.8 253.6 264.0 255.0 265.5C256.4 267.0 258.6 269.0 260.3 269.0C262.1 269.0 264.0 267.0 265.5 265.5C267.0 264.0 268.3 261.8 269.3 260.0C270.3 258.2 270.5 257.5 271.4 255.0C272.3 252.5 273.5 248.3 274.7 245.0C275.9 241.7 277.5 238.3 278.6 235.0C279.7 231.7 280.4 228.3 281.3 225.0C282.2 221.7 283.0 218.3 284.0 215.0C285.0 211.7 286.4 207.5 287.2 205.0C288.0 202.5 288.1 202.5 289.0 200.0C289.9 197.5 291.4 193.3 292.5 190.0C293.6 186.7 294.6 183.3 295.7 180.0C296.8 176.7 297.8 173.3 298.8 170.0C299.8 166.7 300.7 163.3 301.7 160.0C302.7 156.7 303.7 153.3 304.6 150.0C305.6 146.7 306.4 143.3 307.4 140.0C308.3 136.7 309.3 133.3 310.3 130.0C311.3 126.7 312.3 123.3 313.3 120.0C314.3 116.7 315.3 113.3 316.4 110.0C317.5 106.7 318.5 103.3 319.7 100.0C320.9 96.7 322.0 93.3 323.3 90.0C324.6 86.7 326.1 83.2 327.3 80.0C328.5 76.8 329.0 73.3 330.5 71.0C332.0 68.7 334.4 66.2 336.2 66.0C337.9 65.8 339.7 67.7 341.0 70.0C342.3 72.3 343.1 76.7 344.0 80.0C344.9 83.3 345.6 86.7 346.3 90.0C347.0 93.3 347.7 96.7 348.4 100.0C349.1 103.3 349.7 106.7 350.4 110.0C351.1 113.3 351.8 116.7 352.4 120.0C353.0 123.3 353.6 126.7 354.3 130.0C355.0 133.3 355.7 136.7 356.3 140.0C356.9 143.3 357.6 146.7 358.2 150.0C358.8 153.3 359.5 156.7 360.2 160.0C360.9 163.3 361.5 166.7 362.2 170.0C362.9 173.3 363.7 176.7 364.4 180.0C365.1 183.3 365.8 186.7 366.6 190.0C367.4 193.3 368.3 196.5 369.0 200.0C369.7 203.5 369.9 207.4 370.8 210.8C371.7 214.2 372.9 217.1 374.5 220.3C376.1 223.5 378.3 226.6 380.3 229.8C382.3 233.0 384.9 237.0 386.6 239.3C388.4 241.6 389.4 243.5 390.8 243.5C392.2 243.5 393.4 242.1 395.0 239.3C396.6 236.5 398.5 231.0 400.3 226.6C402.1 222.2 403.9 216.8 405.6 212.9C407.4 209.0 409.2 205.5 410.8 203.4C412.4 201.3 413.7 200.3 415.1 200.3C416.5 200.3 417.9 201.1 419.3 203.4C420.7 205.7 421.9 209.8 423.5 214.0C425.1 218.2 427.1 224.3 428.8 228.7C430.6 233.1 432.4 237.8 434.0 240.3C435.6 242.8 436.4 243.3 438.2 243.7C440.0 244.0 442.7 243.1 444.6 242.4C446.5 241.7 448.1 240.4 449.8 239.3C451.5 238.2 452.4 237.3 455.0 235.6C457.6 233.9 462.9 229.9 465.7 228.9C468.5 227.9 469.6 229.1 472.0 229.5C474.4 229.9 477.1 230.6 479.9 231.5C482.7 232.4 486.2 235.4 489.0 235.1C491.8 234.8 494.3 230.9 496.5 229.8C498.7 228.7 500.7 227.9 502.3 228.5C503.9 229.1 504.8 230.7 506.4 233.1C508.0 235.5 510.4 240.0 512.2 243.0C514.0 246.0 515.4 248.8 517.2 251.3C519.0 253.8 521.2 256.5 523.0 257.9C524.8 259.3 525.8 259.9 528.0 259.9C530.2 259.9 534.0 258.3 536.2 258.0C538.4 257.7 539.5 257.6 541.2 258.0C542.9 258.4 544.3 259.4 546.2 260.4C548.1 261.3 550.3 262.7 552.8 263.7C555.3 264.7 558.4 265.2 561.1 266.2C563.9 267.2 566.5 268.4 569.3 269.5C572.0 270.6 574.8 271.6 577.6 272.8C580.4 274.0 583.4 275.8 585.9 276.5C588.4 277.2 590.1 277.2 592.5 277.0C594.9 276.8 598.2 275.8 600.0 275.3C601.8 274.9 601.1 275.8 603.4 274.3C605.7 272.8 610.3 269.4 613.8 266.3C617.3 263.2 621.6 258.5 624.3 255.8C627.0 253.1 628.2 252.0 630.0 250.0C631.8 248.0 633.1 246.8 635.0 243.7C636.9 240.5 639.5 235.6 641.4 231.1C643.3 226.6 644.9 221.1 646.6 216.4C648.4 211.7 650.0 205.9 651.9 202.7C653.8 199.5 656.1 198.8 658.2 197.4C660.3 196.0 662.6 195.9 664.5 194.2C666.4 192.4 668.2 188.4 669.8 186.9C671.4 185.4 672.6 185.0 674.0 185.2C675.4 185.4 676.6 185.2 678.2 187.9C679.8 190.6 681.6 195.8 683.5 201.6C685.4 207.4 687.7 216.7 689.8 222.7C691.9 228.7 693.6 233.2 696.1 237.4C698.6 241.6 702.1 245.8 704.6 248.0C707.1 250.2 708.8 250.8 710.9 250.5C713.0 250.2 715.5 247.8 717.2 245.9C718.9 244.0 719.5 242.7 721.0 239.0C722.5 235.3 724.1 230.0 725.9 224.0C727.7 218.0 729.4 208.0 731.7 203.1C734.0 198.2 737.0 194.5 739.6 194.3C742.2 194.1 745.1 199.3 747.4 202.1C749.7 204.9 751.3 207.8 753.3 210.9C755.3 214.0 756.9 218.1 759.2 220.7C761.5 223.3 764.1 224.5 767.0 226.6C769.9 228.7 773.9 232.1 776.8 233.4C779.7 234.7 782.3 234.7 784.6 234.4C786.9 234.1 788.4 232.3 790.5 231.5C792.6 230.7 794.7 229.3 797.3 229.5C799.9 229.7 803.0 231.6 806.1 232.4C809.2 233.2 813.0 233.7 815.9 234.4C818.8 235.1 821.2 237.0 823.8 236.7C826.4 236.4 828.7 234.1 831.6 232.4C834.5 230.7 838.3 227.9 841.4 226.6C844.5 225.3 847.7 224.9 850.0 224.5C852.3 224.1 853.3 224.5 855.0 224.0C856.7 223.5 858.3 223.3 860.0 221.5C861.7 219.7 863.4 215.8 865.0 213.2C866.6 210.6 868.4 207.2 869.9 206.2C871.4 205.2 872.6 205.9 874.1 207.4C875.6 208.9 877.5 212.3 879.0 214.9C880.5 217.5 881.8 220.8 883.2 223.1C884.6 225.4 885.6 227.4 887.3 228.9C888.9 230.4 891.6 231.5 893.1 232.3C894.6 233.1 895.0 232.8 896.4 233.9C897.8 235.0 899.7 237.2 901.4 238.9C903.1 240.6 904.9 242.3 906.4 243.8C907.9 245.3 907.9 245.6 910.3 248.0C912.7 250.4 917.4 255.3 920.9 258.5C924.4 261.6 927.9 263.7 931.4 266.9C934.9 270.1 938.4 274.8 941.9 277.5C945.4 280.2 949.5 283.4 952.5 283.4C955.5 283.4 957.7 282.4 959.8 277.5C961.9 272.6 963.5 262.0 965.1 254.3C966.7 246.6 968.0 236.3 969.3 231.1C970.6 225.9 971.2 223.2 972.7 223.1C974.2 223.0 976.3 226.1 978.1 230.7C979.9 235.3 981.4 244.0 983.5 250.6C985.6 257.2 988.3 266.6 990.7 270.5C993.1 274.4 995.6 273.4 998.0 274.1C1000.4 274.9 1002.8 275.6 1005.2 275.0C1007.6 274.4 1010.3 271.6 1012.4 270.5C1014.5 269.4 1016.1 268.4 1017.9 268.7C1019.7 269.0 1020.9 270.6 1023.3 272.3C1025.7 274.0 1029.0 277.5 1032.3 278.7C1035.6 279.9 1039.9 279.0 1043.2 279.6C1046.5 280.2 1049.2 281.4 1052.2 282.3C1055.2 283.2 1058.0 284.9 1061.3 285.0C1064.6 285.1 1067.9 283.3 1072.1 283.2C1076.3 283.1 1082.4 284.1 1086.6 284.1C1090.8 284.1 1093.8 284.2 1097.4 283.2C1101.0 282.1 1104.7 279.6 1108.3 277.8C1111.9 276.0 1115.5 274.1 1119.1 272.3C1122.7 270.5 1126.7 268.3 1130.0 266.9C1133.3 265.5 1136.3 264.2 1139.0 263.7C1141.7 263.2 1144.8 263.7 1146.0 263.7" fill="none" stroke="#000" stroke-width="3.0" stroke-linejoin="round" stroke-linecap="round"/>
<path d="M49.7 431.5C50.8 430.4 54.1 427.0 56.3 425.2C58.4 423.4 60.8 421.4 62.6 420.7C64.4 420.0 65.4 421.6 67.1 421.1C68.8 420.6 70.5 419.3 72.5 417.9C74.5 416.5 76.7 413.9 78.8 412.5C80.9 411.1 83.2 411.0 85.2 409.8C87.2 408.6 88.8 407.1 90.6 405.3C92.4 403.5 94.2 400.2 96.0 399.0C97.8 397.8 99.8 398.6 101.4 398.1C103.1 397.7 104.5 397.5 105.9 396.3C107.3 395.1 108.5 392.9 109.6 390.8C110.7 388.7 111.5 387.1 112.3 383.6C113.1 380.1 113.5 374.4 114.5 370.0C115.5 365.6 117.1 361.0 118.1 357.1C119.1 353.2 119.7 349.3 120.5 346.9C121.3 344.5 122.0 343.7 122.9 342.7C123.8 341.7 124.7 341.6 125.9 340.8C127.1 340.0 128.8 339.0 130.1 337.8C131.4 336.6 132.7 334.9 133.7 333.6C134.7 332.3 134.1 333.9 136.1 330.0C138.1 326.1 143.5 315.0 145.8 310.0C148.1 305.0 148.5 303.3 149.8 300.0C151.1 296.7 152.4 293.3 153.6 290.0C154.8 286.7 156.0 283.3 157.2 280.0C158.4 276.7 159.5 273.3 160.6 270.0C161.7 266.7 162.7 263.3 163.7 260.0C164.7 256.7 165.7 253.3 166.7 250.0C167.7 246.7 168.6 243.3 169.5 240.0C170.4 236.7 171.3 233.3 172.1 230.0C172.9 226.7 173.7 223.3 174.5 220.0C175.3 216.7 176.1 213.3 176.8 210.0C177.6 206.7 178.3 203.3 179.0 200.0C179.7 196.7 180.4 193.3 181.1 190.0C181.8 186.7 182.4 183.3 183.1 180.0C183.8 176.7 184.4 173.3 185.0 170.0C185.6 166.7 186.2 163.3 186.8 160.0C187.4 156.7 188.0 153.3 188.6 150.0C189.2 146.7 189.8 143.3 190.4 140.0C191.0 136.7 191.5 133.3 192.1 130.0C192.7 126.7 193.2 123.3 193.8 120.0C194.4 116.7 194.9 113.3 195.5 110.0C196.1 106.7 196.6 103.3 197.2 100.0C197.8 96.7 198.4 93.3 199.0 90.0C199.6 86.7 200.0 82.8 200.8 80.0C201.6 77.2 202.9 74.8 204.0 73.0C205.1 71.2 206.1 69.8 207.1 69.5C208.1 69.2 208.9 69.8 210.0 71.5C211.1 73.2 212.6 76.9 213.5 80.0C214.4 83.1 215.0 86.7 215.7 90.0C216.4 93.3 217.0 96.7 217.6 100.0C218.2 103.3 218.7 106.7 219.2 110.0C219.7 113.3 220.2 116.7 220.7 120.0C221.2 123.3 221.6 126.7 222.0 130.0C222.4 133.3 222.8 136.7 223.2 140.0C223.6 143.3 224.0 146.7 224.4 150.0C224.8 153.3 225.2 156.7 225.7 160.0C226.1 163.3 226.6 166.7 227.1 170.0C227.6 173.3 228.1 176.7 228.7 180.0C229.3 183.3 229.8 185.8 230.5 190.0C231.2 194.2 232.3 200.8 232.9 205.0C233.5 209.2 233.8 211.7 234.3 215.0C234.8 218.3 235.4 221.7 236.0 225.0C236.6 228.3 237.1 231.7 237.8 235.0C238.5 238.3 239.4 241.7 240.2 245.0C240.9 248.3 241.4 250.8 242.3 255.0C243.2 259.2 244.4 265.8 245.5 270.0C246.6 274.2 247.3 276.7 248.9 280.0C250.5 283.3 253.1 287.7 254.9 290.0C256.8 292.3 258.3 293.7 260.0 293.7C261.7 293.7 263.2 292.3 265.1 290.0C267.0 287.7 269.5 283.3 271.1 280.0C272.7 276.7 273.7 274.2 274.8 270.0C275.9 265.8 277.1 259.2 278.0 255.0C278.9 250.8 279.4 248.3 280.4 245.0C281.4 241.7 282.9 238.3 284.0 235.0C285.1 231.7 285.9 228.3 286.8 225.0C287.7 221.7 288.4 218.3 289.5 215.0C290.6 211.7 292.6 207.5 293.5 205.0C294.4 202.5 294.3 202.5 295.0 200.0C295.7 197.5 296.9 193.3 297.9 190.0C298.8 186.7 299.8 183.3 300.7 180.0C301.6 176.7 302.5 173.3 303.4 170.0C304.3 166.7 305.3 163.3 306.2 160.0C307.1 156.7 308.0 153.3 308.9 150.0C309.8 146.7 310.7 143.3 311.6 140.0C312.5 136.7 313.4 133.3 314.4 130.0C315.3 126.7 316.3 123.3 317.3 120.0C318.3 116.7 319.2 113.3 320.2 110.0C321.2 106.7 322.2 103.3 323.3 100.0C324.4 96.7 325.4 93.3 326.5 90.0C327.6 86.7 328.4 82.6 329.9 80.0C331.4 77.4 333.8 74.9 335.3 74.2C336.8 73.5 337.9 75.0 339.0 76.0C340.1 77.0 341.1 77.7 341.8 80.0C342.5 82.3 342.6 86.7 343.0 90.0C343.4 93.3 343.9 96.7 344.3 100.0C344.8 103.3 345.2 106.7 345.7 110.0C346.2 113.3 346.8 116.7 347.3 120.0C347.8 123.3 348.3 126.7 348.9 130.0C349.4 133.3 350.0 136.7 350.6 140.0C351.2 143.3 351.8 146.7 352.4 150.0C353.0 153.3 353.6 156.7 354.3 160.0C355.0 163.3 355.6 166.7 356.3 170.0C357.0 173.3 357.8 176.7 358.5 180.0C359.2 183.3 359.9 186.7 360.7 190.0C361.4 193.3 362.4 196.5 363.0 200.0C363.6 203.5 363.6 205.8 364.5 210.8C365.4 215.8 367.3 224.5 368.7 229.8C370.1 235.1 370.8 239.1 372.9 242.4C375.0 245.7 378.7 247.8 381.3 249.8C383.9 251.8 386.4 254.8 388.7 254.5C391.0 254.2 393.1 251.3 395.0 247.7C396.9 244.1 398.4 237.8 400.3 232.9C402.2 228.0 404.7 221.7 406.6 218.2C408.5 214.7 410.6 213.2 411.9 211.9C413.2 210.6 413.4 210.1 414.5 210.3C415.6 210.5 416.9 210.5 418.2 212.9C419.5 215.3 420.8 220.1 422.4 224.5C424.0 228.9 425.9 234.4 427.7 239.3C429.5 244.2 431.1 250.7 433.0 254.0C434.9 257.3 437.2 258.2 439.3 259.3C441.4 260.4 443.0 260.7 445.6 260.3C448.2 259.9 451.6 259.0 455.0 257.2C458.4 255.4 463.2 250.6 465.7 249.3C468.2 248.1 467.9 248.5 470.0 249.7C472.1 250.9 475.4 254.6 478.3 256.3C481.2 258.0 484.6 260.0 487.4 259.9C490.1 259.8 492.3 256.8 494.8 255.5C497.3 254.2 500.2 252.2 502.3 252.2C504.4 252.2 505.5 253.2 507.3 255.5C509.1 257.8 510.9 263.2 513.0 266.2C515.1 269.2 517.5 271.8 519.7 273.7C521.9 275.6 524.1 276.9 526.3 277.5C528.5 278.1 531.0 277.2 532.9 277.0C534.8 276.8 536.2 275.8 537.9 276.2C539.5 276.6 540.9 277.9 542.8 279.5C544.7 281.1 547.0 284.3 549.5 286.1C552.0 287.9 554.4 289.1 557.7 290.2C561.0 291.3 565.1 292.2 569.3 293.0C573.4 293.8 579.0 294.4 582.6 294.7C586.2 295.0 588.5 295.1 590.9 294.7C593.3 294.2 594.6 293.1 597.0 292.0C599.4 290.9 602.7 289.3 605.5 288.0C608.3 286.7 610.7 286.5 613.8 284.3C616.9 282.1 620.8 278.2 624.3 274.8C627.8 271.4 631.9 268.3 634.8 264.2C637.6 260.1 639.2 255.3 641.4 250.1C643.5 244.9 645.6 237.8 647.7 233.2C649.8 228.6 651.9 225.5 654.0 222.7C656.1 219.9 658.2 219.2 660.3 216.4C662.4 213.6 664.5 209.7 666.6 205.8C668.7 201.9 671.2 196.0 673.0 193.2C674.8 190.4 675.8 189.0 677.2 189.0C678.6 189.0 679.6 189.7 681.4 193.2C683.1 196.7 685.2 204.7 687.7 210.0C690.2 215.3 693.3 221.1 696.1 224.8C698.9 228.5 702.3 230.7 704.6 232.2C706.9 233.7 707.7 234.0 709.8 233.6C711.9 233.2 715.4 231.8 717.2 230.0C719.0 228.2 719.1 226.6 720.5 222.6C721.9 218.6 723.6 211.9 725.5 206.0C727.4 200.1 729.5 191.6 731.7 187.4C733.9 183.2 736.3 180.6 738.6 180.6C740.9 180.6 743.3 183.7 745.4 187.4C747.5 191.2 749.3 197.2 751.3 203.1C753.3 209.0 755.2 217.2 757.2 222.6C759.2 228.0 761.3 232.8 763.1 235.4C764.9 238.0 766.0 238.2 768.0 238.3C770.0 238.5 772.4 236.1 774.8 236.3C777.2 236.5 779.3 238.3 782.6 239.3C785.9 240.3 790.5 241.1 794.4 242.2C798.3 243.3 801.9 244.7 806.1 246.1C810.3 247.5 816.2 250.1 819.8 250.4C823.4 250.7 824.8 249.8 827.7 248.1C830.7 246.4 834.6 241.8 837.5 240.0C840.4 238.2 842.4 238.1 845.0 237.5C847.6 236.9 850.5 236.9 853.0 236.5C855.5 236.1 858.0 236.0 860.0 235.0C862.0 234.0 863.4 231.6 865.0 230.6C866.6 229.6 868.0 228.6 869.5 228.9C871.0 229.2 872.5 231.1 874.1 232.3C875.7 233.6 877.5 236.8 879.0 236.4C880.5 236.0 882.0 233.0 883.2 229.8C884.5 226.6 885.3 220.7 886.5 217.4C887.7 214.2 889.2 210.9 890.6 210.3C892.0 209.7 893.5 211.7 894.8 214.0C896.0 216.3 897.0 220.6 898.1 224.0C899.2 227.4 900.3 231.2 901.4 234.7C902.5 238.1 903.2 240.7 904.7 244.7C906.2 248.7 908.5 256.9 910.3 258.5C912.1 260.1 913.8 258.2 915.6 254.3C917.4 250.4 919.3 239.4 920.9 235.3C922.5 231.2 923.7 229.3 925.1 230.0C926.5 230.7 927.9 234.4 929.3 239.5C930.7 244.6 931.8 254.6 933.5 260.6C935.2 266.6 937.3 271.5 939.8 275.4C942.2 279.3 945.7 281.9 948.2 283.8C950.7 285.7 952.7 287.6 954.6 286.9C956.5 286.2 958.0 285.0 959.8 279.6C961.5 274.2 963.5 262.0 965.1 254.3C966.7 246.6 968.0 237.9 969.3 233.2C970.6 228.5 971.2 226.0 972.7 226.2C974.2 226.4 976.3 229.7 978.1 234.4C979.9 239.1 981.4 247.9 983.5 254.2C985.6 260.5 988.3 268.7 990.7 272.3C993.1 275.9 995.6 275.0 998.0 275.9C1000.4 276.8 1002.8 278.1 1005.2 277.8C1007.6 277.5 1010.3 274.9 1012.4 274.1C1014.5 273.3 1016.1 272.7 1017.9 273.2C1019.7 273.7 1020.9 275.2 1023.3 276.9C1025.7 278.6 1029.0 281.8 1032.3 283.2C1035.6 284.6 1039.6 284.1 1043.2 285.0C1046.8 285.9 1050.4 287.4 1054.0 288.6C1057.6 289.8 1061.0 291.3 1064.9 292.2C1068.8 293.1 1073.3 293.4 1077.5 294.0C1081.7 294.6 1086.3 296.2 1090.2 295.8C1094.1 295.4 1097.4 293.7 1101.0 291.3C1104.6 288.9 1108.9 284.6 1111.9 281.4C1114.9 278.2 1116.7 274.7 1119.1 272.3C1121.5 269.9 1124.0 267.3 1126.4 266.9C1128.8 266.4 1131.2 268.4 1133.6 269.6C1136.0 270.8 1138.7 272.7 1140.8 274.1C1142.9 275.5 1145.1 277.2 1146.0 277.8" fill="none" stroke="#1ee61e" stroke-width="3.0" stroke-linejoin="round" stroke-linecap="round"/>
<line x1="85.1" y1="260.0" x2="98.8" y2="381.7" stroke="#333" stroke-width="1.3"/>
<line x1="122.8" y1="305.9" x2="124.6" y2="334.5" stroke="#333" stroke-width="1.3"/>
<line x1="70.8" y1="381.7" x2="79.8" y2="401.9" stroke="#333" stroke-width="1.3"/>
<line x1="390.1" y1="182.4" x2="395.4" y2="214.2" stroke="#333" stroke-width="1.3"/>
<line x1="421.4" y1="137.6" x2="418.3" y2="187.7" stroke="#333" stroke-width="1.3"/>
<line x1="601.2" y1="177.3" x2="639.3" y2="194.1" stroke="#333" stroke-width="1.3"/>
<line x1="797.0" y1="192.0" x2="769.6" y2="221.9" stroke="#333" stroke-width="1.3"/>
<line x1="896.0" y1="172.7" x2="892.8" y2="203.7" stroke="#333" stroke-width="1.3"/>
<line x1="1097.4" y1="226.4" x2="1124.6" y2="258.8" stroke="#333" stroke-width="1.3"/>
<line x1="77.0" y1="462.0" x2="98.8" y2="482.5" stroke="#333" stroke-width="1.3"/>
<line x1="378.0" y1="549.6" x2="395.5" y2="573.8" stroke="#333" stroke-width="1.3"/>
<text x="174.7" y="60.5" text-anchor="middle" font-size="17.2" font-weight="normal" fill="#262626">1624</text>
<text x="174.7" y="80.0" text-anchor="middle" font-size="17.2" font-weight="normal" fill="#262626">1622</text>
<text x="298.5" y="65.5" text-anchor="middle" font-size="17.2" font-weight="normal" fill="#262626">1513</text>
<text x="298.2" y="84.3" text-anchor="middle" font-size="17.2" font-weight="normal" fill="#262626">1511</text>
<text x="428.0" y="123.9" text-anchor="middle" font-size="17.2" font-weight="normal" fill="#262626">1444</text>
<text x="390.3" y="174.5" text-anchor="middle" font-size="17.2" font-weight="normal" fill="#262626">1454</text>
<text x="597.4" y="173.5" text-anchor="middle" font-size="17.2" font-weight="normal" fill="#262626">1242</text>
<text x="671.5" y="162.5" text-anchor="middle" font-size="17.2" font-weight="normal" fill="#262626">1222</text>
<text x="741.9" y="169.7" text-anchor="middle" font-size="17.2" font-weight="normal" fill="#262626">1165</text>
<text x="798.2" y="187.1" text-anchor="middle" font-size="17.2" font-weight="normal" fill="#262626">1134</text>
<text x="895.6" y="163.1" text-anchor="middle" font-size="17.2" font-weight="normal" fill="#262626">1034</text>
<text x="929.6" y="218.6" text-anchor="middle" font-size="17.2" font-weight="normal" fill="#262626">1006</text>
<text x="973.9" y="213.6" text-anchor="middle" font-size="17.2" font-weight="normal" fill="#262626">963</text>
<text x="1097.5" y="222.2" text-anchor="middle" font-size="17.2" font-weight="normal" fill="#262626">830</text>
<text x="83.6" y="252.9" text-anchor="middle" font-size="17.2" font-weight="normal" fill="#262626">1717</text>
<text x="122.3" y="300.2" text-anchor="middle" font-size="17.2" font-weight="normal" fill="#262626">1695</text>
<text x="69.4" y="378.9" text-anchor="middle" font-size="17.2" font-weight="normal" fill="#262626">1732</text>
<text x="80.2" y="455.6" text-anchor="middle" font-size="17.2" font-weight="normal" fill="#262626">1716</text>
<text x="127.5" y="475.0" text-anchor="middle" font-size="17.2" font-weight="normal" fill="#262626">1691</text>
<text x="196.0" y="479.0" text-anchor="middle" font-size="17.2" font-weight="normal" fill="#262626">1631</text>
<text x="86.5" y="558.0" text-anchor="middle" font-size="17.2" font-weight="normal" fill="#262626">1716</text>
<text x="136.5" y="541.0" text-anchor="middle" font-size="17.2" font-weight="normal" fill="#262626">1685</text>
<text x="200.0" y="548.0" text-anchor="middle" font-size="17.2" font-weight="normal" fill="#262626">1631</text>
<text x="403.9" y="486.3" text-anchor="middle" font-size="17.2" font-weight="normal" fill="#262626">1455</text>
<text x="378.0" y="543.2" text-anchor="middle" font-size="17.2" font-weight="normal" fill="#262626">1454</text>
<text x="589.0" y="481.6" text-anchor="middle" font-size="17.2" font-weight="normal" fill="#262626">1295</text>
<text x="583.4" y="555.0" text-anchor="middle" font-size="17.2" font-weight="normal" fill="#262626">1297</text>
<text x="753.1" y="448.9" text-anchor="middle" font-size="17.2" font-weight="normal" fill="#262626">1153</text>
<text x="746.6" y="533.0" text-anchor="middle" font-size="17.2" font-weight="normal" fill="#262626">1161</text>
<text x="938.4" y="393.7" text-anchor="middle" font-size="17.2" font-weight="normal" fill="#262626">989</text>
<text x="999.0" y="397.1" text-anchor="middle" font-size="17.2" font-weight="normal" fill="#262626">947</text>
<text x="1066.9" y="448.6" text-anchor="middle" font-size="17.2" font-weight="normal" fill="#262626">889</text>
<text x="956.5" y="474.4" text-anchor="middle" font-size="17.2" font-weight="normal" fill="#262626">976</text>
<text x="1001.7" y="483.4" text-anchor="middle" font-size="17.2" font-weight="normal" fill="#262626">950</text>
<text x="1071.4" y="512.4" text-anchor="middle" font-size="17.2" font-weight="normal" fill="#262626">877</text>
<text x="172.6" y="42.8" text-anchor="middle" font-size="17.5" font-weight="bold" fill="#1a1a1a">&#946;</text>
<text x="296.3" y="47.0" text-anchor="middle" font-size="17.5" font-weight="bold" fill="#1a1a1a">&#946;</text>
<text x="597.4" y="155.4" text-anchor="middle" font-size="17.5" font-weight="bold" fill="#1a1a1a">&#946;</text>
<text x="668.4" y="143.4" text-anchor="middle" font-size="17.5" font-weight="bold" fill="#1a1a1a">&#946;</text>
<text x="972.0" y="194.6" text-anchor="middle" font-size="17.5" font-weight="bold" fill="#1a1a1a">&#946;</text>
<text x="118.7" y="280.3" text-anchor="middle" font-size="17.5" font-weight="bold" fill="#1a1a1a">&#946;</text>
<text x="427.3" y="104.5" text-anchor="middle" font-size="16.5" font-weight="normal" fill="#222">*</text>
<text x="389.8" y="155.0" text-anchor="middle" font-size="16.5" font-weight="normal" fill="#222">*</text>
<text x="742.3" y="151.0" text-anchor="middle" font-size="16.5" font-weight="normal" fill="#222">*</text>
<text x="798.6" y="166.7" text-anchor="middle" font-size="16.5" font-weight="normal" fill="#222">*</text>
<text x="895.0" y="144.0" text-anchor="middle" font-size="16.5" font-weight="normal" fill="#222">*</text>
<text x="929.5" y="199.0" text-anchor="middle" font-size="16.5" font-weight="normal" fill="#222">*</text>
<text x="1097.0" y="202.0" text-anchor="middle" font-size="16.5" font-weight="normal" fill="#222">*</text>
<text x="83.5" y="233.0" text-anchor="middle" font-size="16.5" font-weight="normal" fill="#222">*</text>
<text x="69.3" y="359.0" text-anchor="middle" font-size="16.5" font-weight="normal" fill="#222">*</text>
<text x="367.2" y="331.6" text-anchor="start" font-size="20.0" font-weight="bold" fill="#e8161c">T CL&#160;&#160;13.7 %</text>
<text x="367.2" y="372.3" text-anchor="start" font-size="20.0" font-weight="bold" fill="#1ee61e">T M 12.4 %</text>
<text x="367.2" y="412.9" text-anchor="start" font-size="20.0" font-weight="bold" fill="#111">T control</text>
<text x="783.7" y="413.7" text-anchor="start" font-size="20.0" font-weight="bold" fill="#0c0c72">Phosmer CL</text>
<text x="783.7" y="524.5" text-anchor="start" font-size="20.0" font-weight="bold" fill="#137813">Phosmer M</text>
</svg>
</body></html>
